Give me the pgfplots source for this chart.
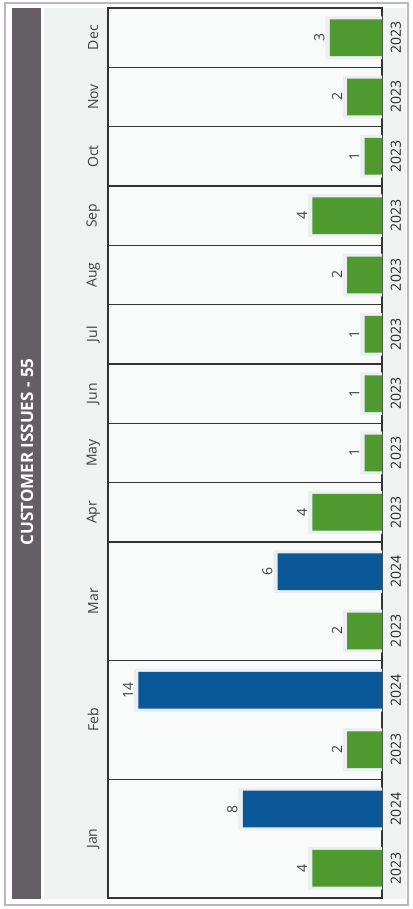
\documentclass[border=0pt]{standalone}
\usepackage{pgfplots}
\pgfplotsset{compat=1.18}
\usepackage{fontspec}
\setmainfont{Open Sans}
\definecolor{gr}{RGB}{78,154,46}
\definecolor{bl}{RGB}{10,88,152}
\definecolor{tbar}{RGB}{100,95,100}
\definecolor{lbg}{RGB}{240,241,241}
\definecolor{pbg}{RGB}{249,250,250}
\definecolor{halo}{RGB}{235,239,243}
\begin{document}
\begin{tikzpicture}[x=1pt,y=1pt,
  month/.style={rotate=90, text=black!75, font=\fontsize{14}{16}\selectfont},
  year/.style={rotate=90, text=black!85, font=\fontsize{14}{16}\selectfont}]
\useasboundingbox (0,0) rectangle (412,909);
\fill[white] (0,0) rectangle (412,909);
\draw[gray!55, line width=1.2pt] (5,4) rectangle (408,906);
\fill[lbg] (44,10) rectangle (406,901);
\fill[tbar] (12,10) rectangle (41,901);
\node[rotate=90, text=white, font=\bfseries\fontsize{17}{19}\selectfont] at (27,457) {CUSTOMER ISSUES - 55};
\begin{axis}[
  at={(108pt,11pt)}, anchor=south west,
  width=274pt, height=890pt, scale only axis,
  xbar, x dir=reverse,
  xmin=0, xmax=15.75,
  ymin=-0.5, ymax=14.5,
  bar width=0.62, bar shift=0pt,
  axis background/.style={fill=pbg},
  axis line style={black!80, line width=1.2pt},
  xtick=\empty,
  ytick={1.5,3.5,5.5,6.5,7.5,8.5,9.5,10.5,11.5,12.5,13.5},
  yticklabels={},
  major tick length=0pt,
  ymajorgrids, major grid style={black!80, line width=1.2pt},
  clip=false,
  /pgf/number format/assume math mode=true,
]
\addplot[fill=halo, draw=none, bar width=0.72, forget plot]
  coordinates {(4.25,0) (2.25,2) (2.25,4) (4.25,6) (1.25,7) (1.25,8) (1.25,9) (2.25,10) (4.25,11) (1.25,12) (2.25,13) (3.25,14) (8.25,1) (14.25,3) (6.25,5)};
\addplot[fill=gr, draw=none, nodes near coords,
  every node near coord/.append style={rotate=90, anchor=south, text=black!75, font=\fontsize{14}{16}\selectfont, inner sep=5pt}]
  coordinates {(4,0) (2,2) (2,4) (4,6) (1,7) (1,8) (1,9) (2,10) (4,11) (1,12) (2,13) (3,14)};
\addplot[fill=bl, draw=none, nodes near coords,
  every node near coord/.append style={rotate=90, anchor=south, text=black!75, font=\fontsize{14}{16}\selectfont, inner sep=5pt}]
  coordinates {(8,1) (14,3) (6,5)};
\node[month] at (axis cs:16.6,0.5) {Jan};
\node[month] at (axis cs:16.6,2.5) {Feb};
\node[month] at (axis cs:16.6,4.5) {Mar};
\node[month] at (axis cs:16.6,6) {Apr};
\node[month] at (axis cs:16.6,7) {May};
\node[month] at (axis cs:16.6,8) {Jun};
\node[month] at (axis cs:16.6,9) {Jul};
\node[month] at (axis cs:16.6,10) {Aug};
\node[month] at (axis cs:16.6,11) {Sep};
\node[month] at (axis cs:16.6,12) {Oct};
\node[month] at (axis cs:16.6,13) {Nov};
\node[month] at (axis cs:16.6,14) {Dec};
\node[year] at (axis cs:-0.8,0) {2023};
\node[year] at (axis cs:-0.8,1) {2024};
\node[year] at (axis cs:-0.8,2) {2023};
\node[year] at (axis cs:-0.8,3) {2024};
\node[year] at (axis cs:-0.8,4) {2023};
\node[year] at (axis cs:-0.8,5) {2024};
\node[year] at (axis cs:-0.8,6) {2023};
\node[year] at (axis cs:-0.8,7) {2023};
\node[year] at (axis cs:-0.8,8) {2023};
\node[year] at (axis cs:-0.8,9) {2023};
\node[year] at (axis cs:-0.8,10) {2023};
\node[year] at (axis cs:-0.8,11) {2023};
\node[year] at (axis cs:-0.8,12) {2023};
\node[year] at (axis cs:-0.8,13) {2023};
\node[year] at (axis cs:-0.8,14) {2023};
\end{axis}
\end{tikzpicture}
\end{document}
